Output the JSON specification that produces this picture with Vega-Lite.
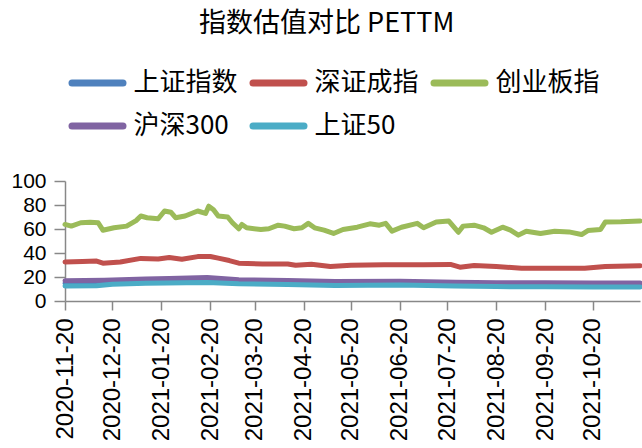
{
  "$schema": "https://vega.github.io/schema/vega-lite/v6.json",
  "width": 575,
  "height": 120,
  "autosize": {"type": "none"},
  "padding": {"left": 65, "top": 181, "right": 2, "bottom": 147},
  "background": "white",
  "title": {"text": "指数估值对比 PETTM", "font": "Noto Sans CJK SC", "fontSize": 27, "fontWeight": "normal", "color": "#000", "offset": 16, "anchor": "middle", "frame": "bounds"},
  "config": {
    "view": {"stroke": null},
    "axis": {"labelFont": "Liberation Sans", "labelColor": "#000", "domainColor": "#888", "tickColor": "#888", "domainWidth": 1.5, "tickWidth": 1.5, "grid": false, "title": null}
  },
  "data": {"values": [
    {"d":"2020-11-20","s":"上证指数","v":14.8},{"d":"2020-12-20","s":"上证指数","v":15.2},{"d":"2021-01-20","s":"上证指数","v":16.2},{"d":"2021-02-18","s":"上证指数","v":16.8},{"d":"2021-03-20","s":"上证指数","v":15.6},{"d":"2021-04-20","s":"上证指数","v":15.0},{"d":"2021-05-20","s":"上证指数","v":14.8},{"d":"2021-06-20","s":"上证指数","v":14.9},{"d":"2021-07-25","s":"上证指数","v":14.0},{"d":"2021-08-20","s":"上证指数","v":13.6},{"d":"2021-09-20","s":"上证指数","v":13.4},{"d":"2021-10-20","s":"上证指数","v":13.3},{"d":"2021-11-19","s":"上证指数","v":13.2},
    {"d":"2020-11-20","s":"深证成指","v":32.5},{"d":"2020-12-01","s":"深证成指","v":33.0},{"d":"2020-12-10","s":"深证成指","v":33.3},{"d":"2020-12-14","s":"深证成指","v":31.5},{"d":"2020-12-25","s":"深证成指","v":32.5},{"d":"2021-01-07","s":"深证成指","v":35.5},{"d":"2021-01-18","s":"深证成指","v":35.0},{"d":"2021-01-25","s":"深证成指","v":36.2},{"d":"2021-02-02","s":"深证成指","v":34.8},{"d":"2021-02-12","s":"深证成指","v":37.0},{"d":"2021-02-20","s":"深证成指","v":37.1},{"d":"2021-02-25","s":"深证成指","v":35.7},{"d":"2021-03-04","s":"深证成指","v":33.7},{"d":"2021-03-10","s":"深证成指","v":31.5},{"d":"2021-03-25","s":"深证成指","v":30.9},{"d":"2021-04-10","s":"深证成指","v":30.9},{"d":"2021-04-15","s":"深证成指","v":29.8},{"d":"2021-04-25","s":"深证成指","v":30.6},{"d":"2021-05-07","s":"深证成指","v":28.7},{"d":"2021-05-20","s":"深证成指","v":29.8},{"d":"2021-06-10","s":"深证成指","v":30.3},{"d":"2021-07-05","s":"深证成指","v":30.2},{"d":"2021-07-22","s":"深证成指","v":30.5},{"d":"2021-07-28","s":"深证成指","v":28.2},{"d":"2021-08-06","s":"深证成指","v":29.6},{"d":"2021-08-20","s":"深证成指","v":28.7},{"d":"2021-09-05","s":"深证成指","v":27.3},{"d":"2021-09-25","s":"深证成指","v":27.3},{"d":"2021-10-15","s":"深证成指","v":27.2},{"d":"2021-10-28","s":"深证成指","v":28.8},{"d":"2021-11-19","s":"深证成指","v":29.3},
    {"d":"2020-11-20","s":"创业板指","v":63.8},{"d":"2020-11-24","s":"创业板指","v":62.4},{"d":"2020-11-30","s":"创业板指","v":65.2},{"d":"2020-12-06","s":"创业板指","v":65.7},{"d":"2020-12-11","s":"创业板指","v":65.2},{"d":"2020-12-14","s":"创业板指","v":59.0},{"d":"2020-12-21","s":"创业板指","v":61.0},{"d":"2020-12-29","s":"创业板指","v":62.4},{"d":"2021-01-04","s":"创业板指","v":67.0},{"d":"2021-01-07","s":"创业板指","v":70.8},{"d":"2021-01-11","s":"创业板指","v":69.4},{"d":"2021-01-18","s":"创业板指","v":68.5},{"d":"2021-01-22","s":"创业板指","v":75.0},{"d":"2021-01-26","s":"创业板指","v":74.0},{"d":"2021-01-29","s":"创业板指","v":69.4},{"d":"2021-02-04","s":"创业板指","v":70.8},{"d":"2021-02-12","s":"创业板指","v":75.0},{"d":"2021-02-17","s":"创业板指","v":73.0},{"d":"2021-02-19","s":"创业板指","v":79.0},{"d":"2021-02-22","s":"创业板指","v":76.0},{"d":"2021-02-25","s":"创业板指","v":70.8},{"d":"2021-03-03","s":"创业板指","v":70.0},{"d":"2021-03-06","s":"创业板指","v":65.2},{"d":"2021-03-10","s":"创业板指","v":60.2},{"d":"2021-03-12","s":"创业板指","v":63.8},{"d":"2021-03-15","s":"创业板指","v":61.0},{"d":"2021-03-24","s":"创业板指","v":59.6},{"d":"2021-03-29","s":"创业板指","v":60.2},{"d":"2021-04-04","s":"创业板指","v":63.2},{"d":"2021-04-08","s":"创业板指","v":62.4},{"d":"2021-04-14","s":"创业板指","v":60.2},{"d":"2021-04-19","s":"创业板指","v":61.0},{"d":"2021-04-23","s":"创业板指","v":64.7},{"d":"2021-04-27","s":"创业板指","v":61.0},{"d":"2021-05-03","s":"创业板指","v":59.0},{"d":"2021-05-09","s":"创业板指","v":56.3},{"d":"2021-05-15","s":"创业板指","v":59.6},{"d":"2021-05-24","s":"创业板指","v":61.5},{"d":"2021-06-01","s":"创业板指","v":64.3},{"d":"2021-06-07","s":"创业板指","v":63.2},{"d":"2021-06-11","s":"创业板指","v":64.7},{"d":"2021-06-15","s":"创业板指","v":58.2},{"d":"2021-06-21","s":"创业板指","v":61.5},{"d":"2021-07-01","s":"创业板指","v":64.7},{"d":"2021-07-05","s":"创业板指","v":61.0},{"d":"2021-07-13","s":"创业板指","v":65.8},{"d":"2021-07-21","s":"创业板指","v":66.6},{"d":"2021-07-27","s":"创业板指","v":57.3},{"d":"2021-07-30","s":"创业板指","v":62.4},{"d":"2021-08-06","s":"创业板指","v":63.2},{"d":"2021-08-12","s":"创业板指","v":61.0},{"d":"2021-08-17","s":"创业板指","v":57.3},{"d":"2021-08-24","s":"创业板指","v":61.5},{"d":"2021-08-29","s":"创业板指","v":59.0},{"d":"2021-09-03","s":"创业板指","v":54.9},{"d":"2021-09-08","s":"创业板指","v":58.2},{"d":"2021-09-17","s":"创业板指","v":56.3},{"d":"2021-09-26","s":"创业板指","v":58.2},{"d":"2021-10-05","s":"创业板指","v":57.6},{"d":"2021-10-13","s":"创业板指","v":55.4},{"d":"2021-10-17","s":"创业板指","v":58.7},{"d":"2021-10-25","s":"创业板指","v":59.6},{"d":"2021-10-28","s":"创业板指","v":65.8},{"d":"2021-11-07","s":"创业板指","v":66.0},{"d":"2021-11-19","s":"创业板指","v":66.6},
    {"d":"2020-11-20","s":"沪深300","v":16.8},{"d":"2020-12-15","s":"沪深300","v":17.2},{"d":"2021-01-10","s":"沪深300","v":18.3},{"d":"2021-01-25","s":"沪深300","v":18.8},{"d":"2021-02-18","s":"沪深300","v":19.5},{"d":"2021-03-10","s":"沪深300","v":17.8},{"d":"2021-04-10","s":"沪深300","v":17.0},{"d":"2021-05-10","s":"沪深300","v":16.3},{"d":"2021-06-20","s":"沪深300","v":16.5},{"d":"2021-07-25","s":"沪深300","v":15.6},{"d":"2021-08-20","s":"沪深300","v":15.3},{"d":"2021-09-20","s":"沪深300","v":15.2},{"d":"2021-10-20","s":"沪深300","v":15.1},{"d":"2021-11-19","s":"沪深300","v":15.0},
    {"d":"2020-11-20","s":"上证50","v":12.5},{"d":"2020-12-10","s":"上证50","v":12.8},{"d":"2020-12-20","s":"上证50","v":14.0},{"d":"2021-01-10","s":"上证50","v":14.8},{"d":"2021-02-18","s":"上证50","v":15.5},{"d":"2021-03-10","s":"上证50","v":14.3},{"d":"2021-04-10","s":"上证50","v":13.8},{"d":"2021-05-10","s":"上证50","v":13.0},{"d":"2021-06-20","s":"上证50","v":13.3},{"d":"2021-07-25","s":"上证50","v":12.5},{"d":"2021-08-20","s":"上证50","v":12.0},{"d":"2021-09-20","s":"上证50","v":11.8},{"d":"2021-10-20","s":"上证50","v":11.6},{"d":"2021-11-19","s":"上证50","v":11.6}
  ]},
  "mark": {"type": "line", "strokeWidth": 5, "strokeJoin": "round", "strokeCap": "round"},
  "encoding": {
    "x": {
      "field": "d", "type": "temporal",
      "scale": {"type": "utc", "domain": [{"year": 2020, "month": 11, "date": 20, "utc": true}, {"year": 2021, "month": 11, "date": 19, "utc": true}]},
      "axis": {
        "values": [
          {"year": 2020, "month": 11, "date": 20, "utc": true},{"year": 2020, "month": 12, "date": 20, "utc": true},{"year": 2021, "month": 1, "date": 20, "utc": true},{"year": 2021, "month": 2, "date": 20, "utc": true},{"year": 2021, "month": 3, "date": 20, "utc": true},{"year": 2021, "month": 4, "date": 20, "utc": true},{"year": 2021, "month": 5, "date": 20, "utc": true},{"year": 2021, "month": 6, "date": 20, "utc": true},{"year": 2021, "month": 7, "date": 20, "utc": true},{"year": 2021, "month": 8, "date": 20, "utc": true},{"year": 2021, "month": 9, "date": 20, "utc": true},{"year": 2021, "month": 10, "date": 20, "utc": true}
        ],
        "labelExpr": "utcFormat(datum.value, '%Y-%m-%d')",
        "labelAngle": 270, "labelAlign": "right", "labelBaseline": "middle",
        "labelFontSize": 24, "labelPadding": 8, "tickSize": 9, "labelOverlap": false, "labelFlush": false
      }
    },
    "y": {
      "field": "v", "type": "quantitative",
      "scale": {"domain": [0, 100], "nice": false, "zero": true},
      "axis": {"values": [0, 20, 40, 60, 80, 100], "labelFontSize": 21, "tickSize": 11, "labelPadding": 8}
    },
    "color": {
      "field": "s", "type": "nominal",
      "scale": {"domain": ["上证指数", "深证成指", "创业板指", "沪深300", "上证50"], "range": ["#4F81BD", "#C0504D", "#9BBB59", "#8064A2", "#4BACC6"]},
      "legend": {
        "orient": "none", "legendX": 3.5, "legendY": -127, "direction": "horizontal", "columns": 3, "title": null,
        "symbolType": "stroke", "symbolSize": 2600, "symbolStrokeWidth": 7, "labelFontSize": 26, "labelFont": "Noto Sans CJK SC", "labelColor": "#000",
        "columnPadding": 0, "rowPadding": -4, "labelOffset": 7, "labelLimit": 300, "padding": 0,
        "encode": {"symbols": {"update": {"strokeCap": {"value": "round"}}}}
      }
    }
  }
}
